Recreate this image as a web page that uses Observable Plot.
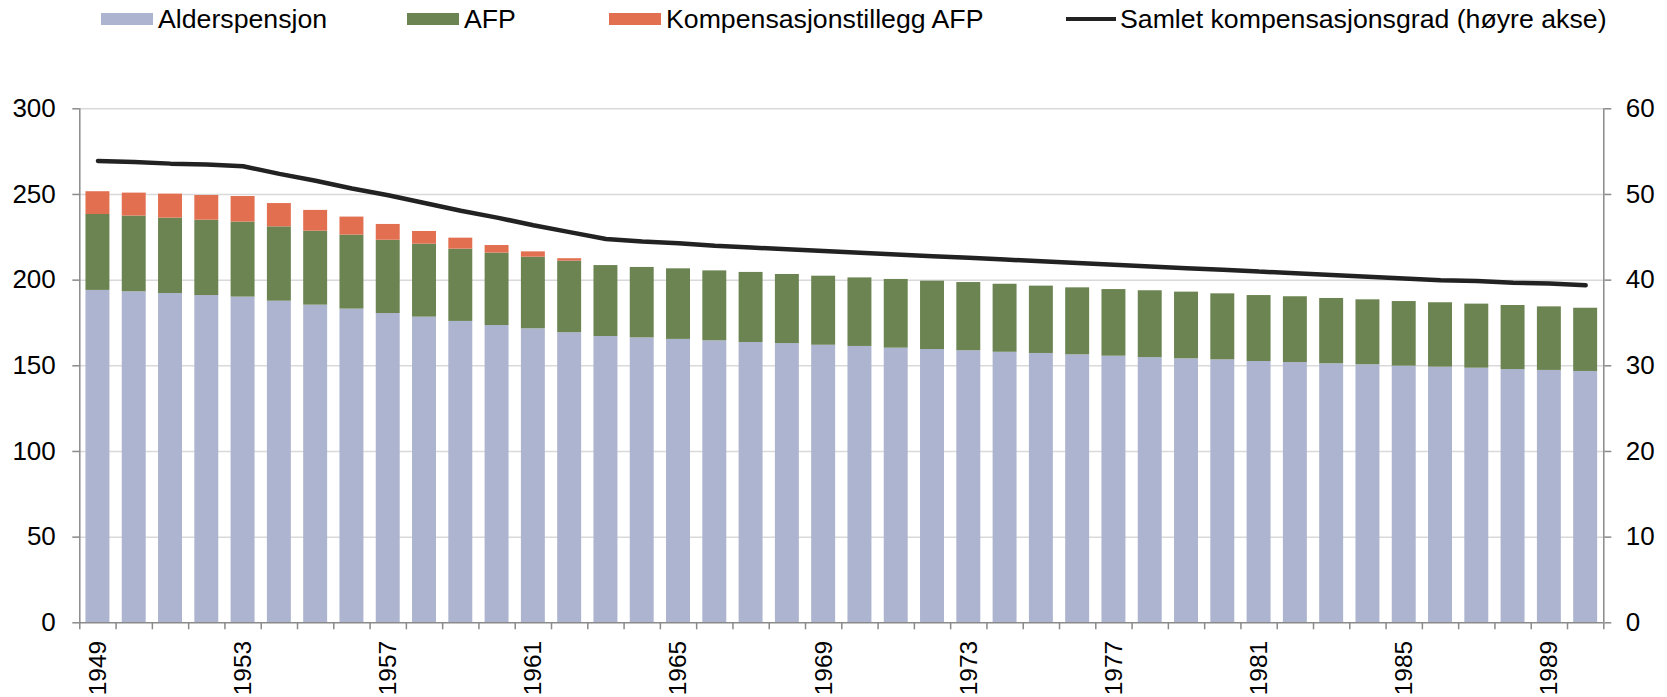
<!DOCTYPE html>
<html><head><meta charset="utf-8">
<script src="https://cdn.jsdelivr.net/npm/d3@7"></script>
<script src="https://cdn.jsdelivr.net/npm/@observablehq/plot@0.6"></script>
<style>
body{margin:0;background:#fff;font-family:"Liberation Sans",Arial,sans-serif;}
#legend{position:relative;height:42px;width:1667px;font-size:26.7px;color:#000;}
.item{position:absolute;top:6px;height:26px;line-height:26px;display:flex;align-items:center;white-space:nowrap;}
.sw{width:52px;height:12.5px;margin-right:5px;}
.ln{width:50px;height:4px;margin-right:4px;background:#222;}
</style></head><body>
<div id="legend"></div>
<div id="chart"></div>
<script>
const years = [1949,1950,1951,1952,1953,1954,1955,1956,1957,1958,1959,1960,1961,1962,1963,1964,1965,1966,1967,1968,1969,1970,1971,1972,1973,1974,1975,1976,1977,1978,1979,1980,1981,1982,1983,1984,1985,1986,1987,1988,1989,1990];
const alderspensjon = [194.0,193.2,192.2,191.0,190.1,187.7,185.4,183.1,180.5,178.4,175.9,173.5,171.6,169.3,167.1,166.3,165.4,164.6,163.6,163.0,162.0,161.3,160.3,159.5,158.8,157.9,157.2,156.4,155.6,154.8,154.1,153.5,152.5,151.9,151.2,150.6,149.8,149.2,148.6,147.8,147.3,146.7];
const afp = [44.3,44.2,44.0,44.0,43.8,43.4,43.2,43.2,42.8,42.6,42.2,42.3,41.8,41.8,41.4,41.1,41.2,40.8,40.9,40.3,40.3,40.0,40.1,39.9,39.8,39.7,39.3,39.1,38.9,39.0,38.9,38.5,38.5,38.4,38.1,37.9,37.7,37.6,37.4,37.4,37.1,36.9];
const kompensasjonstillegg = [13.3,13.4,14.0,14.4,14.9,13.6,12.1,10.5,9.2,7.4,6.4,4.4,3.1,1.4,0,0,0,0,0,0,0,0,0,0,0,0,0,0,0,0,0,0,0,0,0,0,0,0,0,0,0,0];
const kompensasjonsgrad = [53.9,53.8,53.6,53.5,53.3,52.4,51.6,50.7,49.9,49.0,48.1,47.3,46.4,45.6,44.8,44.5,44.3,44.0,43.8,43.6,43.4,43.2,43.0,42.8,42.6,42.4,42.2,42.0,41.8,41.6,41.4,41.2,41.0,40.8,40.6,40.4,40.2,40.0,39.9,39.7,39.6,39.4];
const seriesNames = ["Alderspensjon","AFP","Kompensasjonstillegg AFP"];
const lineName = "Samlet kompensasjonsgrad (høyre akse)";
const seriesColors = ["#adb4cf","#6b8452","#e36f51"];
const leftTicks = [0,50,100,150,200,250,300];
const rightTicks = [0,10,20,30,40,50,60];
const xLabelYears = [1949,1953,1957,1961,1965,1969,1973,1977,1981,1985,1989];

// legend (HTML above the SVG)
const legendLeft = [101,407,609,1066];
const legend = document.getElementById("legend");
seriesNames.forEach((name,i)=>{
  const it = document.createElement("div");
  it.className="item"; it.style.left=legendLeft[i]+"px";
  const sw=document.createElement("span"); sw.className="sw"; sw.style.background=seriesColors[i];
  it.appendChild(sw); it.appendChild(document.createTextNode(name));
  legend.appendChild(it);
});
{
  const it=document.createElement("div"); it.className="item"; it.style.left=legendLeft[3]+"px";
  const ln=document.createElement("span"); ln.className="ln";
  it.appendChild(ln); it.appendChild(document.createTextNode(lineName));
  legend.appendChild(it);
}

const rows = [];
years.forEach((y,i)=>{
  rows.push({year:y, series:seriesNames[0], value:alderspensjon[i]});
  rows.push({year:y, series:seriesNames[1], value:afp[i]});
  rows.push({year:y, series:seriesNames[2], value:kompensasjonstillegg[i]});
});
const lineRows = years.map((y,i)=>({year:y, rate:kompensasjonsgrad[i]}));
const k = leftTicks[leftTicks.length-1]/rightTicks[rightTicks.length-1];

const W=1667, H=655, mL=79.3, mR=63.7, mT=66.3, mB=74.7;
const step=(W-mL-mR)/years.length;
const axisGrey="#8a8a8a";
const font={fontFamily:'"Liberation Sans",Arial,sans-serif',fontSize:"26px",color:"#000",background:"#fff",overflow:"visible"};

const chart = Plot.plot({
  width:W, height:H, marginLeft:mL, marginRight:mR, marginTop:mT, marginBottom:mB,
  style:font,
  x:{type:"band", domain:years, paddingInner:0.34, paddingOuter:0.17, round:false, axis:null},
  y:{domain:[0,300], axis:null},
  color:{domain:seriesNames, range:seriesColors},
  marks:[
    Plot.gridY(leftTicks.filter(t=>t>0), {stroke:"#d9d9d9", strokeOpacity:1, strokeWidth:1.5}),
    Plot.barY(rows, {x:"year", y:"value", fill:"series"}),
    Plot.line(lineRows, {x:"year", y:d=>d.rate*k, stroke:"#222", strokeWidth:4.5, strokeLinejoin:"miter", strokeLinecap:"round"}),
    Plot.ruleY([0], {stroke:axisGrey, strokeWidth:1.5}),
    Plot.ruleX([years[0]], {y1:0, y2:300, dx:-step/2, stroke:axisGrey, strokeWidth:1.5}),
    Plot.ruleX([years[years.length-1]], {y1:0, y2:300, dx:step/2, stroke:axisGrey, strokeWidth:1.5}),
    Plot.ruleX(years, {y1:0, y2:0, insetBottom:-7, dx:-step/2, stroke:axisGrey, strokeWidth:1.5}),
    Plot.ruleX([years[years.length-1]], {y1:0, y2:0, insetBottom:-7, dx:step/2, stroke:axisGrey, strokeWidth:1.5}),
    Plot.axisY(leftTicks, {anchor:"left", tickSize:7, tickPadding:17, stroke:axisGrey, strokeWidth:1.5, fill:"#000", label:null}),
    Plot.axisY(rightTicks.map(t=>t*k), {anchor:"right", tickSize:7, tickPadding:15, tickFormat:d=>String(Math.round(d/k)), stroke:axisGrey, strokeWidth:1.5, fill:"#000", label:null}),
    Plot.axisX(xLabelYears, {anchor:"bottom", tickSize:0, tickPadding:18, tickRotate:-90, tickFormat:d=>String(d), fontSize:24.5, fill:"#000", label:null})
  ]
});
document.getElementById("chart").appendChild(chart);
</script>
</body></html>
